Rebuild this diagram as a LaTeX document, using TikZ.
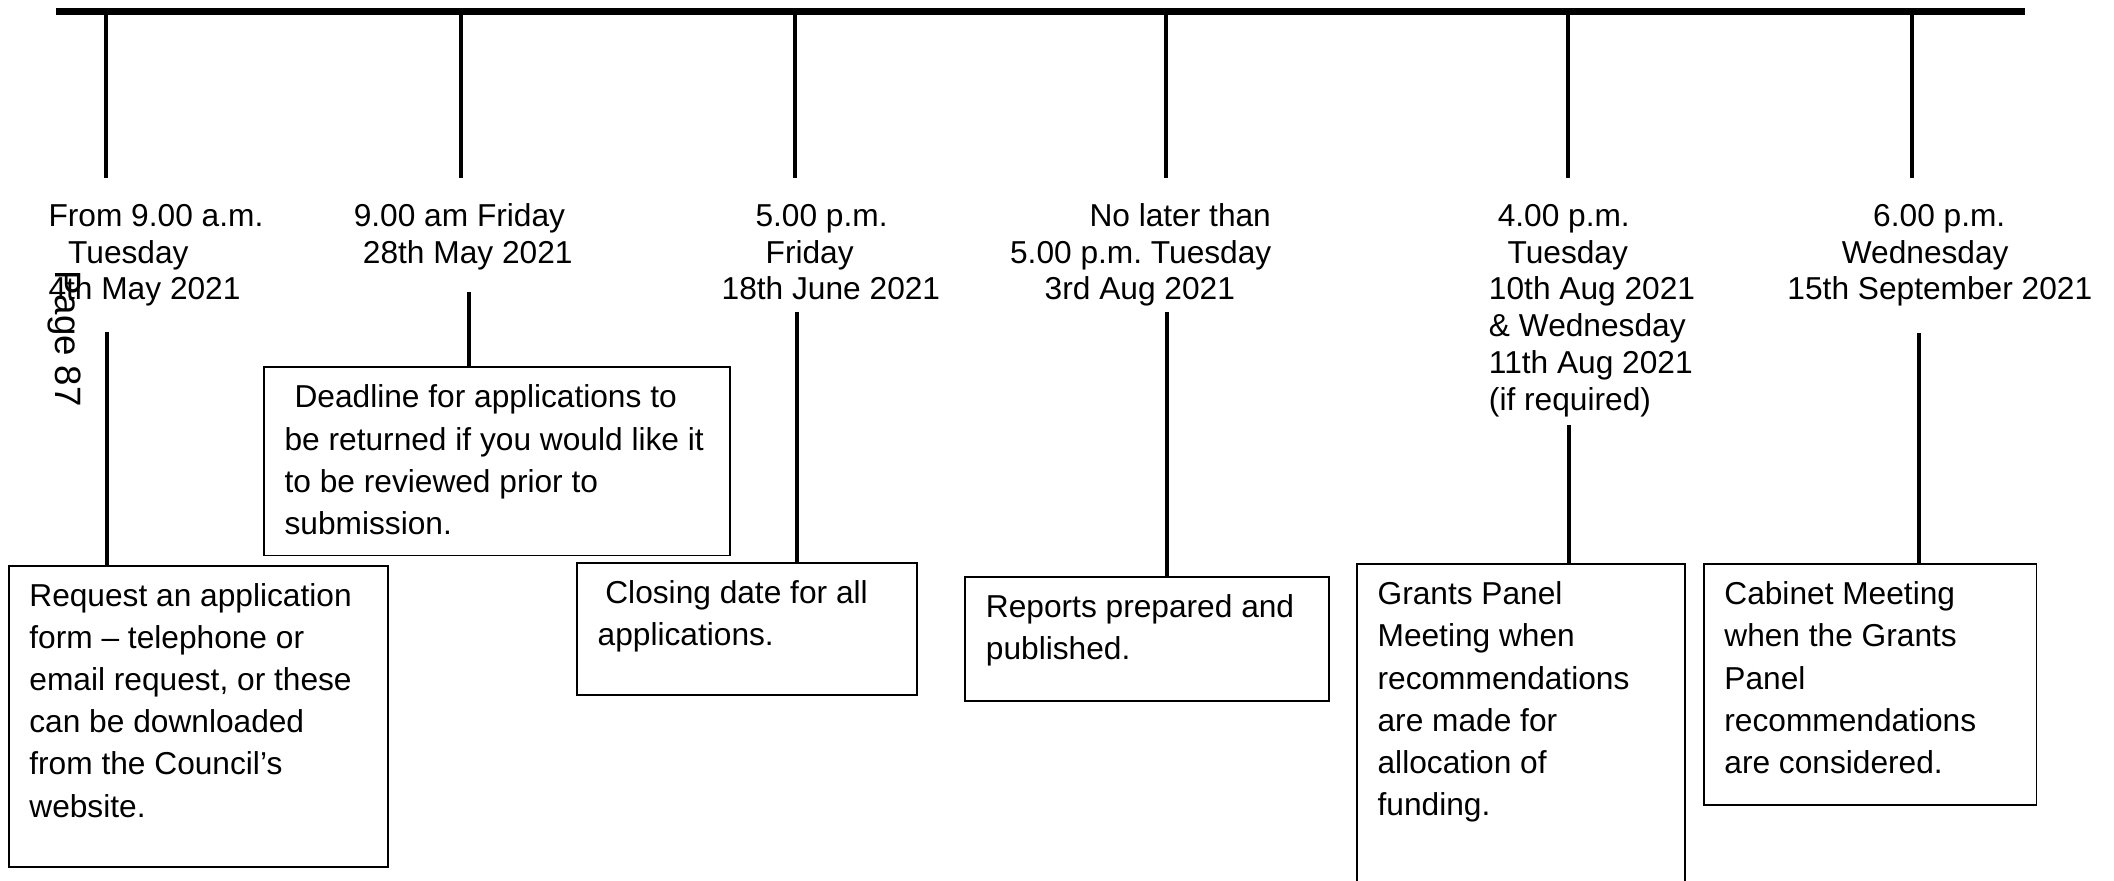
\documentclass[tikz,border=0pt]{standalone}
\usepackage{fontspec}
\setmainfont{Liberation Sans}
\usepackage{tikz}
\frenchspacing

\begin{document}
\begin{tikzpicture}[x=.5pt,y=-.5pt,
  bar/.style={line width=2.5pt},
  tick/.style={line width=1.5pt},
  when/.style={anchor=north west,inner sep=0,align=left,font=\fontsize{11.75}{13.7}\selectfont},
  stage/.style 2 args={draw,line width=.7pt,anchor=north west,outer sep=0,inner xsep=7.65pt,inner ysep=4.05pt,
    font=\fontsize{11.75}{15.65}\selectfont,
    execute at begin node={\begin{minipage}[t][#2][t]{#1}\strut},
    execute at end node={\end{minipage}}}]
\useasboundingbox (0,0) rectangle (1568,653);
\clip (0,0) rectangle (1568,653);
% timeline
\coordinate (barL) at (41.4,8.7); \coordinate (barR) at (1502,8.7);
\draw[bar] (barL)--(barR);
% dates
\node[when] (when1) at (35.6,148.1) {\strut From 9.00 a.m.\\\hspace*{7.3pt}Tuesday\\4th May 2021};
\node[when] (when2) at (262,148.1) {\strut 9.00 am Friday\\\hspace*{3.4pt}28th May 2021};
\node[when] (when3) at (534.9,148.1) {\strut\hspace*{12.55pt}5.00 p.m.\\\hspace*{16.3pt}Friday\\18th June 2021};
\node[when] (when4) at (748.8,148.1) {\strut\hspace*{29.45pt}No later than\\5.00 p.m. Tuesday\\\hspace*{12.85pt}3rd Aug 2021};
\node[when] (when5) at (1104,148.1) {\strut\hspace*{3.25pt}4.00 p.m.\\\hspace*{6.9pt}Tuesday\\10th Aug 2021\\\& Wednesday\\11th Aug 2021\\(if required)};
\node[when] (when6) at (1325.4,148.1) {\strut\hspace*{31.8pt}6.00 p.m.\\\hspace*{20.15pt}Wednesday\\15th September 2021};
\node[rotate=-90,anchor=base west,inner sep=0,font=\fontsize{13.6}{16}\selectfont] (page) at (41.5,200) {Page 87};
% stages
\node[stage={125.25pt}{103.6pt}] (request) at (6.5,419.6) {Request an application\\form – telephone or\\email request, or these\\can be downloaded\\from the Council’s\\website.};
\node[stage={157.65pt}{61.65pt}] (deadline) at (195.8,272.5) {\hspace*{3.7pt}Deadline for applications to\\be returned if you would like it\\to be reviewed prior to\\submission.};
\node[stage={110.7pt}{41pt}] (closing) at (428,417.4) {\hspace*{2.85pt}Closing date for all\\applications.};
\node[stage={119.7pt}{38.05pt}] (reports) at (716,427.7) {Reports prepared and\\published.};
\node[stage={106.45pt}{121.9pt}] (panel) at (1006.5,418.5) {Grants Panel\\Meeting when\\recommendations\\are made for\\allocation of\\funding.};
\node[stage={108.1pt}{81.15pt}] (cabinet) at (1263.7,418.5) {Cabinet Meeting\\when the Grants\\Panel\\recommendations\\are considered.};
% ticks
\foreach \x [count=\i] in {78.8,342.1,590,864.5,1163,1418.5}
  \draw[tick] (\x,8.7)--([yshift=8pt]\x,0 |- when\i.north);
\foreach \x/\y/\b [count=\i] in {79.1/246/request,348/216.4/deadline,591/231.2/closing,865.6/231.5/reports,1163.5/315/panel,1423.5/246.8/cabinet}{
  \coordinate (foot\i) at (\x,\y);
  \draw[tick] (foot\i)--(foot\i |- \b.north);}
\end{tikzpicture}
\end{document}
